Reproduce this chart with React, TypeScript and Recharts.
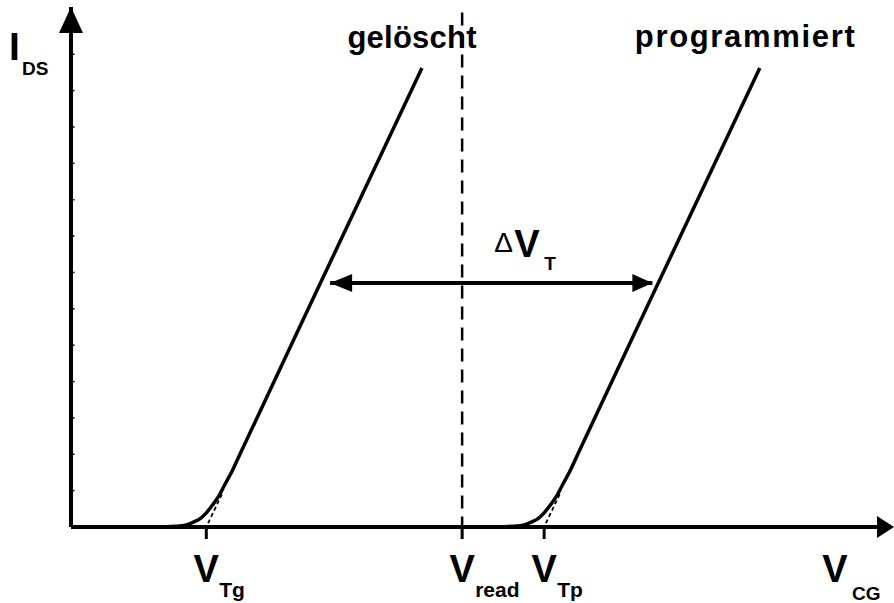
import React from 'react';
import { LineChart, Line, XAxis, YAxis, ReferenceDot, Label } from 'recharts';

const FONT = '"Liberation Sans", Arial, Helvetica, sans-serif';

// gate voltage V_CG (arbitrary units) of the three marked points on the x axis
const xTicks = [1.65, 4.77, 5.77];
const xTickSubs = ['Tg', 'read', 'Tp'];
// small dots on the I_DS axis
const yTicks = [1, 2, 3, 4, 5, 6, 7, 8, 9, 10, 11, 12, 13];

// transfer curves
const geloescht = [
  { v: 0.84, i: 0 },
  { v: 1.1, i: 0 },
  { v: 1.16, i: 0.01 },
  { v: 1.28, i: 0.02 },
  { v: 1.41, i: 0.06 },
  { v: 1.5, i: 0.14 },
  { v: 1.58, i: 0.24 },
  { v: 1.65, i: 0.39 },
  { v: 1.72, i: 0.59 },
  { v: 1.8, i: 0.84 },
  { v: 1.87, i: 1.14 },
  { v: 1.97, i: 1.56 },
  { v: 2.06, i: 2.0 },
  { v: 3.0, i: 6.51 },
  { v: 4.28, i: 12.62 },
];
const programmiert = [
  { v: 4.96, i: 0 },
  { v: 5.22, i: 0 },
  { v: 5.28, i: 0.01 },
  { v: 5.4, i: 0.02 },
  { v: 5.53, i: 0.06 },
  { v: 5.62, i: 0.14 },
  { v: 5.7, i: 0.24 },
  { v: 5.77, i: 0.39 },
  { v: 5.84, i: 0.59 },
  { v: 5.92, i: 0.84 },
  { v: 5.99, i: 1.14 },
  { v: 6.09, i: 1.56 },
  { v: 6.18, i: 2.0 },
  { v: 7.12, i: 6.51 },
  { v: 8.4, i: 12.62 },
];
// dotted extrapolation down to the threshold voltages
const tangentG = [{ v: 1.84, i: 0.9 }, { v: 1.66, i: 0.05 }];
const tangentP = [{ v: 5.96, i: 0.9 }, { v: 5.78, i: 0.05 }];
// read voltage
const vRead = [{ v: 4.77, i: 14.15 }, { v: 4.77, i: 0 }];
// delta V_T arrow
const deltaVT = [{ v: 3.16, i: 6.71 }, { v: 7.09, i: 6.71 }];

const XTick = (props: any) => {
  const { x, y, index } = props;
  const sub = xTickSubs[index] ?? '';
  return (
    <g fontFamily={FONT} fontWeight="bold" fill="#000">
      <text x={x} y={y} dy={41} textAnchor="middle" fontSize={38}>V</text>
      <text x={x + 13} y={y} dy={56} textAnchor="start" fontSize={21}>{sub}</text>
    </g>
  );
};

const YTick = (props: any) => {
  const { x, y } = props;
  return <line x1={x} x2={x + 3.5} y1={y} y2={y} stroke="#000" strokeWidth={1.5} />;
};

const IdsLabel = (props: any) => {
  const vb = props.viewBox;
  return (
    <g fontFamily={FONT} fontWeight="bold" fill="#000">
      <text x={vb.x + 9} y={vb.y + 53} fontSize={39}>I</text>
      <text x={vb.x + 22} y={vb.y + 68} fontSize={19}>DS</text>
    </g>
  );
};

const VcgLabel = (props: any) => {
  const vb = props.viewBox;
  return (
    <g fontFamily={FONT} fontWeight="bold" fill="#000">
      <text x={vb.x + vb.width - 56} y={vb.y + 55} textAnchor="middle" fontSize={38}>V</text>
      <text x={vb.x + vb.width - 39} y={vb.y + 73} fontSize={19}>CG</text>
    </g>
  );
};

const arrowUp = (p: any) => (
  <polygon points={`${p.cx},${p.cy} ${p.cx - 12},${p.cy + 26} ${p.cx + 12},${p.cy + 26}`} fill="#000" />
);
const arrowRight = (p: any) => (
  <polygon points={`${p.cx + 3},${p.cy} ${p.cx - 14},${p.cy - 11} ${p.cx - 14},${p.cy + 11}`} fill="#000" />
);
const headLeft = (p: any) => (
  <polygon points={`${p.cx},${p.cy} ${p.cx + 22},${p.cy - 9} ${p.cx + 22},${p.cy + 9}`} fill="#000" />
);
const headRight = (p: any) => (
  <polygon points={`${p.cx},${p.cy} ${p.cx - 20},${p.cy - 9} ${p.cx - 20},${p.cy + 9}`} fill="#000" />
);

const curveName = (text: string, dx: number, dy: number, len: number) => (p: any) => (
  <text
    x={p.cx + dx}
    y={p.cy + dy}
    textAnchor="middle"
    fontFamily={FONT}
    fontWeight="bold"
    fontSize={31}
    fill="#000"
    textLength={len}
    lengthAdjust="spacing"
  >
    {text}
  </text>
);

const deltaLabel = (p: any) => (
  <g fontFamily={FONT} fill="#000">
    <text x={p.cx + 3} y={p.cy - 31} fontSize={28}>Δ</text>
    <text x={p.cx + 23} y={p.cy - 26} fontSize={38} fontWeight="bold">V</text>
    <text x={p.cx + 53} y={p.cy - 13} fontSize={19} fontWeight="bold">T</text>
  </g>
);

export default function App() {
  return (
    <div style={{ position: 'absolute', left: 0, top: 0, background: '#fff' }}>
      <LineChart width={894} height={603} margin={{ top: 7, right: 3, left: 0, bottom: 0 }}>
        <XAxis
          type="number"
          dataKey="v"
          domain={[0, 10]}
          ticks={xTicks}
          interval={0}
          height={76}
          tickSize={12}
          tickLine={{ stroke: '#000', strokeWidth: 3 }}
          axisLine={{ stroke: '#000', strokeWidth: 4 }}
          tick={<XTick />}
        >
          <Label content={VcgLabel} />
        </XAxis>
        <YAxis
          type="number"
          domain={[0, 14.3]}
          ticks={yTicks}
          interval={0}
          width={71}
          tickSize={0}
          tickMargin={0}
          tickLine={false}
          axisLine={{ stroke: '#000', strokeWidth: 4 }}
          tick={<YTick />}
        >
          <Label content={IdsLabel} />
        </YAxis>

        <Line data={vRead} dataKey="i" type="linear" stroke="#000" strokeWidth={2.5} strokeDasharray="13 8" dot={false} activeDot={false} isAnimationActive={false} />
        <Line data={tangentG} dataKey="i" type="linear" stroke="#000" strokeWidth={1.8} strokeDasharray="4 3" dot={false} activeDot={false} isAnimationActive={false} />
        <Line data={tangentP} dataKey="i" type="linear" stroke="#000" strokeWidth={1.8} strokeDasharray="4 3" dot={false} activeDot={false} isAnimationActive={false} />
        <Line data={geloescht} dataKey="i" type="monotone" stroke="#000" strokeWidth={3.5} dot={false} activeDot={false} isAnimationActive={false} />
        <Line data={programmiert} dataKey="i" type="monotone" stroke="#000" strokeWidth={3.5} dot={false} activeDot={false} isAnimationActive={false} />
        <Line data={deltaVT} dataKey="i" type="linear" stroke="#000" strokeWidth={4} dot={false} activeDot={false} isAnimationActive={false} />

        <ReferenceDot x={0} y={14.3} r={0} shape={arrowUp} />
        <ReferenceDot x={10} y={0} r={0} shape={arrowRight} />
        <ReferenceDot x={deltaVT[0].v} y={deltaVT[0].i} r={0} shape={headLeft} />
        <ReferenceDot x={deltaVT[1].v} y={deltaVT[1].i} r={0} shape={headRight} />
        <ReferenceDot x={(deltaVT[0].v + deltaVT[1].v) / 2} y={deltaVT[0].i} r={0} shape={deltaLabel} />
        <ReferenceDot x={geloescht[geloescht.length - 1].v} y={geloescht[geloescht.length - 1].i} r={0} shape={curveName('gelöscht', -10, -20, 129)} />
        <ReferenceDot x={programmiert[programmiert.length - 1].v} y={programmiert[programmiert.length - 1].i} r={0} shape={curveName('programmiert', -15, -21, 220)} />
      </LineChart>
    </div>
  );
}
